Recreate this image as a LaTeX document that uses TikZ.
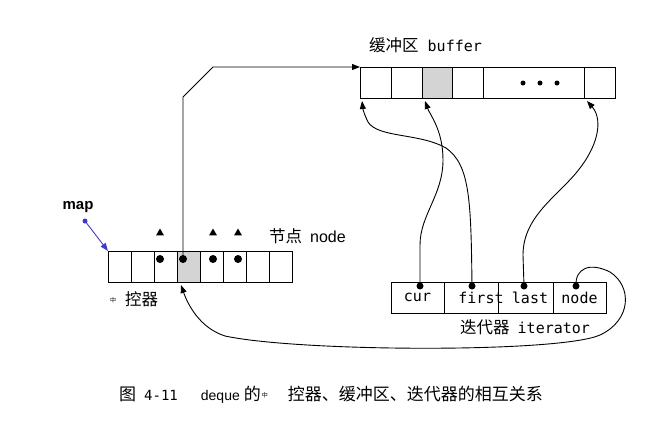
\documentclass[tikz,border=0pt]{standalone}
\usepackage{fontspec}
\setmonofont{DejaVu Sans Mono}
\setsansfont{Liberation Sans}
\newfontfamily\cjk{Noto Sans CJK SC}
\usetikzlibrary{positioning, arrows.meta, shapes.geometric, calc}
\definecolor{mapblue}{RGB}{60,60,200}
\newcommand{\smallzhong}{\raisebox{3pt}{\fontsize{6}{6}\selectfont 中}}

\begin{document}
\begin{tikzpicture}[x=1pt, y=-1pt, node distance=0pt and 0pt]
    \tikzset{
      cell/.style={
        rectangle, draw=black, line width=0.8pt,
        minimum height=31pt, inner sep=0pt, outer sep=0pt
      },
      mapcell/.style={cell, minimum width=23pt},
      bufcell/.style={cell, minimum width=31pt},
      itercell/.style={cell, minimum width=54pt, font=\ttfamily\fontsize{15}{15}\selectfont},
      hot/.style={fill=black!17},
      dot/.style={circle, fill=black, inner sep=0pt, minimum size=8pt},
      tri/.style={regular polygon, regular polygon sides=3, fill=black, inner sep=0pt, minimum size=9pt},
      lbl/.style={anchor=west, inner sep=0pt, font=\cjk\fontsize{16.5}{18}\selectfont},
      ptr/.style={-{Triangle[length=8pt,width=6pt]}, line width=0.9pt}
    }
    \useasboundingbox (0,0) rectangle (646,421);

    % map (control array)
    \node[mapcell] (m0) at (119.5,266.5) {};
    \node[mapcell, right=of m0] (m1) {};
    \node[mapcell, right=of m1] (m2) {};
    \node[mapcell, hot, right=of m2] (m3) {};
    \node[mapcell, right=of m3] (m4) {};
    \node[mapcell, right=of m4] (m5) {};
    \node[mapcell, right=of m5] (m6) {};
    \node[mapcell, right=of m6] (m7) {};

    \node[dot] (pm2) at (160,259) {};
    \node[dot] (pm3) at (183,259) {};
    \node[dot] (pm4) at (213,259) {};
    \node[dot] (pm5) at (238,259) {};
    \node[tri] (t2) at (160,233) {};
    \node[tri] (t4) at (213,233) {};
    \node[tri] (t5) at (238,233) {};

    % buffer
    \node[bufcell] (b0) at (375.5,82.5) {};
    \node[bufcell, right=of b0] (b1) {};
    \node[bufcell, hot, minimum width=30pt, right=of b1] (b2) {};
    \node[bufcell, right=of b2] (b3) {};
    \node[bufcell, minimum width=101pt, right=of b3] (b4) {};
    \node[bufcell, right=of b4] (b5) {};
    \node[dot, minimum size=5pt] (e1) at (523,83) {};
    \node[dot, minimum size=5pt] (e2) at (540,83) {};
    \node[dot, minimum size=5pt] (e3) at (557,83) {};

    % iterator
    \node[itercell, minimum width=53pt] (i0) at (417.5,297.5) {cur};
    \node[itercell, right=of i0] (i1) {\makebox[0pt][c]{\hspace{20pt}first}};
    \node[itercell, minimum width=55pt, right=of i1] (i2) {\makebox[0pt][c]{\hspace{9pt}last}};
    \node[itercell, minimum width=53pt, right=of i2] (i3) {node};
    \node[dot, minimum size=7pt] (pcur) at (420,286) {};
    \node[dot, minimum size=7pt] (pfirst) at (472,286) {};
    \node[dot, minimum size=7pt] (plast) at (524,286) {};
    \node[dot, minimum size=7pt] (pnode) at (576,286) {};

    % labels
    \node[font=\sffamily\bfseries\fontsize{15}{15}\selectfont] (maplbl) at (78,207) {map};
    \node[dot, fill=mapblue, minimum size=5pt] (mapdot) at (85,221) {};
    \node[lbl] (buflbl) at (369,45) {缓冲区\hspace{9pt}\ttfamily\fontsize{15}{15}\selectfont buffer};
    \node[lbl] (nodelbl) at (269,236) {节点\hspace{8pt}\sffamily\fontsize{16}{16}\selectfont node};
    \node[lbl] (iterlbl) at (460,327) {迭代器\hspace{8pt}\ttfamily\fontsize{15}{15}\selectfont iterator};
    \node[lbl] (ctrllbl) at (110,299) {\smallzhong\hspace{9pt}控器};
    \node[lbl, font=\cjk\fontsize{17}{18}\selectfont] (caption) at (119,395)
      {图\hspace{8pt}{\ttfamily\fontsize{14}{14}\selectfont 4-11}\hspace{23pt}{\sffamily\fontsize{14}{14}\selectfont deque}\hspace{4pt}的\hspace{1pt}\smallzhong\hspace{20pt}控器、缓冲区、迭代器的相互关系};

    % pointers
    \draw[ptr, mapblue] (mapdot.center) -- (m0.north west);
    \draw[ptr] (pm3.center) -- (183,97) -- (213,67) -- (b0.north west);
    \draw[ptr] (pcur.center) -- (420,245)
      .. controls (420,215) and (443,195) .. (443,160)
      .. controls (443,130) and (430,115) .. ($(b2.south west)+(3,3)$);
    \draw[ptr] (pfirst.center) .. controls (471,200) and (470,165) .. (446,148)
      .. controls (420,133) and (378,138) .. (368,122)
      .. controls (365,116) and (363,110) .. ($(b0.south west)+(2,3)$);
    \draw[ptr] (plast.center) -- (523,255)
      .. controls (523,215) and (560,195) .. (580,168)
      .. controls (600,142) and (602,118) .. ($(b5.south west)+(3,3)$);
    \draw[ptr] (pnode.center) .. controls (575,268) and (590,262) .. (610,272)
      .. controls (632,286) and (632,320) .. (600,335)
      .. controls (560,353) and (300,352) .. (225,336)
      .. controls (200,328) and (188,305) .. ($(m3.south west)+(4,3)$);
\end{tikzpicture}
\end{document}
